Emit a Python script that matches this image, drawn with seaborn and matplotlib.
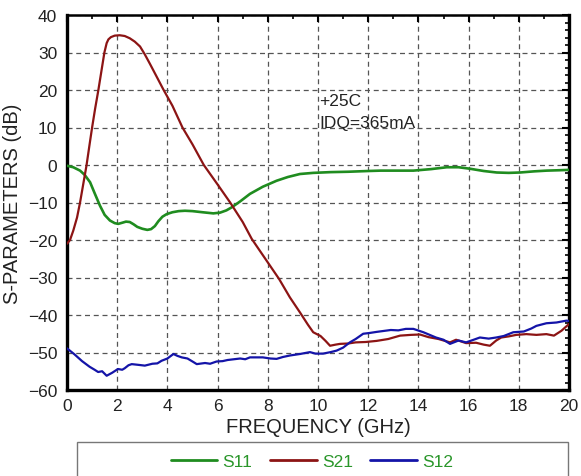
import numpy as np
import pandas as pd
import matplotlib
matplotlib.use("Agg")
import matplotlib.pyplot as plt
from matplotlib.patches import Rectangle
from matplotlib.lines import Line2D
from matplotlib.ticker import MultipleLocator
import seaborn as sns

# S11 (input return loss)
s11_freq = [0, 0.25, 0.52, 0.7, 0.92, 1.1, 1.31, 1.5, 1.71, 1.9, 2.04, 2.2, 2.35, 2.5,
            2.65, 2.8, 3.0, 3.2, 3.35, 3.5, 3.64, 3.8, 3.97, 4.2, 4.45, 4.7, 5.0, 5.4,
            5.83, 6.1, 6.35, 6.56, 6.9, 7.29, 7.8, 8.35, 8.8, 9.28, 9.81, 10.5, 11.2,
            12.0, 12.5, 13.3, 13.8, 14.5, 15.13, 15.6, 16.06, 16.6, 17.12, 17.6, 18.05,
            18.6, 19.11, 19.6, 20]
s11_db = [-0.2, -0.6, -1.5, -2.6, -4.6, -7.5, -10.8, -13.3, -14.8, -15.5, -15.7, -15.4,
          -15.1, -15.2, -15.8, -16.5, -17.0, -17.3, -17.1, -16.3, -15.0, -13.8, -13.1,
          -12.6, -12.3, -12.2, -12.3, -12.6, -12.9, -12.7, -12.1, -11.3, -9.7, -7.7,
          -5.8, -4.2, -3.2, -2.4, -2.1, -1.9, -1.8, -1.6, -1.5, -1.5, -1.5, -1.1, -0.6,
          -0.6, -1.0, -1.6, -2.0, -2.1, -2.0, -1.7, -1.5, -1.4, -1.3]

# S21 (gain)
s21_freq = [0, 0.12, 0.25, 0.4, 0.52, 0.65, 0.78, 0.9, 1.0, 1.12, 1.25, 1.37, 1.49, 1.58,
            1.65, 1.75, 1.9, 2.1, 2.3, 2.5, 2.7, 2.91, 3.1, 3.31, 3.6, 3.85, 4.2, 4.6,
            5.0, 5.45, 6.0, 6.5, 7.0, 7.36, 7.9, 8.45, 8.88, 9.3, 9.6, 9.81, 10.1, 10.3,
            10.48, 10.7, 10.88, 11.2, 11.5, 11.9, 12.34, 12.8, 13.27, 13.7, 14.06, 14.4,
            14.8, 15.26, 15.5, 15.9, 16.3, 16.6, 16.85, 17.1, 17.3, 17.6, 17.9, 18.3,
            18.7, 19.1, 19.4, 19.7, 20]
s21_db = [-21, -20, -17.5, -14, -10, -5, 0, 5.5, 10, 15, 20, 25, 30, 32.5, 33.5, 34.1,
          34.5, 34.6, 34.4, 33.8, 32.9, 31.6, 29.5, 26.9, 23.2, 20, 15.8, 10, 5.5, 0,
          -5.2, -10, -15.2, -19.7, -25, -30.4, -35.3, -39.5, -42.6, -44.6, -45.6, -46.9,
          -48.2, -47.9, -47.7, -47.6, -47.3, -47.2, -46.9, -46.4, -45.5, -45.3, -45.2,
          -45.9, -46.4, -47.3, -46.6, -47.5, -47.4, -47.9, -48.2, -46.8, -46.0, -45.7,
          -45.3, -45.1, -45.3, -45.1, -45.5, -44.2, -42.4]

# S12 (reverse isolation)
s12_freq = [0, 0.3, 0.6, 0.9, 1.1, 1.24, 1.4, 1.58, 1.8, 2.03, 2.2, 2.3, 2.45, 2.58,
            2.85, 3.1, 3.4, 3.6, 3.77, 4.0, 4.24, 4.4, 4.57, 4.8, 5.0, 5.17, 5.5, 5.7,
            5.96, 6.2, 6.4, 6.9, 7.1, 7.29, 7.8, 8.1, 8.35, 8.6, 8.88, 9.28, 9.68, 9.9,
            10.2, 10.5, 10.74, 11.0, 11.27, 11.5, 11.8, 12.05, 12.34, 12.9, 13.2, 13.5,
            13.8, 14.2, 14.7, 15.0, 15.26, 15.6, 15.9, 16.2, 16.45, 16.8, 17.1, 17.4,
            17.78, 18.2, 18.5, 18.7, 19.1, 19.5, 19.9, 20]
s12_db = [-48.9, -50.5, -52.3, -53.8, -54.6, -55.2, -55.0, -56.2, -55.4, -54.4, -54.6,
          -54.2, -53.4, -53.1, -53.3, -53.5, -53.0, -52.9, -52.2, -51.6, -50.4, -50.9,
          -51.3, -51.6, -52.4, -53.1, -52.8, -53.0, -52.4, -52.3, -52.0, -51.6, -51.8,
          -51.3, -51.3, -51.6, -51.7, -51.2, -50.8, -50.4, -49.9, -50.3, -50.3, -49.9,
          -49.5, -48.7, -47.3, -46.4, -45.0, -44.8, -44.5, -44.0, -44.1, -43.7, -43.7,
          -44.6, -46.0, -46.6, -47.7, -46.8, -47.3, -46.6, -46.0, -46.3, -46.0, -45.6,
          -44.6, -44.4, -43.6, -42.9, -42.2, -42.0, -41.5, -41.6]

series_names = ["S11", "S21", "S12"]
series_colors = ["#1f8c1f", "#8c1414", "#1414a8"]
x_ticks = [0, 2, 4, 6, 8, 10, 12, 14, 16, 18, 20]
y_ticks = [-60, -50, -40, -30, -20, -10, 0, 10, 20, 30, 40]

sns.set_style("white")
plt.rcParams["font.family"] = ["Liberation Sans", "DejaVu Sans"]

fig = plt.figure(figsize=(5.81, 4.77), dpi=100)
ax = fig.add_axes([67 / 581, 1 - 391 / 477, (569 - 67) / 581, (391 - 16) / 477])

frames = [
    pd.DataFrame({"freq": s11_freq, "db": s11_db, "param": "S11"}),
    pd.DataFrame({"freq": s21_freq, "db": s21_db, "param": "S21"}),
    pd.DataFrame({"freq": s12_freq, "db": s12_db, "param": "S12"}),
]
widths = {"S11": 1.9, "S21": 1.6, "S12": 1.6}
for df, color in zip(frames, series_colors):
    name = df["param"].iloc[0]
    sns.lineplot(data=df, x="freq", y="db", color=color, lw=widths[name],
                 sort=False, ax=ax, legend=False, zorder=3)

ax.set_xlim(0, 20)
ax.set_ylim(-60, 40)
ax.set_xticks(x_ticks)
ax.set_yticks(y_ticks)
ax.xaxis.set_minor_locator(MultipleLocator(1))
ax.yaxis.set_minor_locator(MultipleLocator(2))
ax.grid(True, which="major", color="#555555", linestyle=(0, (4, 3)), linewidth=0.9)

ax.tick_params(axis="both", which="both", direction="in", top=True, right=True,
               colors="black", labelcolor="#222222")
ax.tick_params(axis="both", which="major", length=5, width=1.5, labelsize=12.5)
ax.tick_params(axis="x", which="major", pad=6)
ax.tick_params(axis="y", which="major", pad=7)
ax.tick_params(axis="both", which="minor", length=3, width=1.2)

for side, lw in (("left", 2.4), ("bottom", 2.4), ("right", 2.4), ("top", 1.8)):
    ax.spines[side].set_visible(True)
    ax.spines[side].set_color("black")
    ax.spines[side].set_linewidth(lw)

ax.set_xlabel("FREQUENCY (GHz)", fontsize=14.5, color="#222222", labelpad=3)
ax.set_ylabel("S-PARAMETERS (dB)", fontsize=14.5, color="#222222", labelpad=4)

ax.text(10.05, 17.3, "+25C", fontsize=12.5, color="#222222", va="center", ha="left")
ax.text(10.05, 11.3, "IDQ=365mA", fontsize=12.5, color="#222222", va="center", ha="left")

# Legend panel below the plot
fig.patches.append(Rectangle((77 / 581, -0.05), (568 - 77) / 581, 0.05 + (477 - 443) / 477,
                             transform=fig.transFigure, fill=False,
                             edgecolor="#777777", linewidth=1.0))
handles = [Line2D([], [], color=c, lw=2.0) for c in series_colors]
leg = fig.legend(handles, series_names, loc="center", bbox_to_anchor=(312 / 581, 1 - 462 / 477),
                 ncol=3, frameon=False, fontsize=12.5, handlelength=2.7,
                 handletextpad=0.3, columnspacing=1.0)
for t in leg.get_texts():
    t.set_color("#2a962a")

fig.savefig("out.png", dpi=100)
